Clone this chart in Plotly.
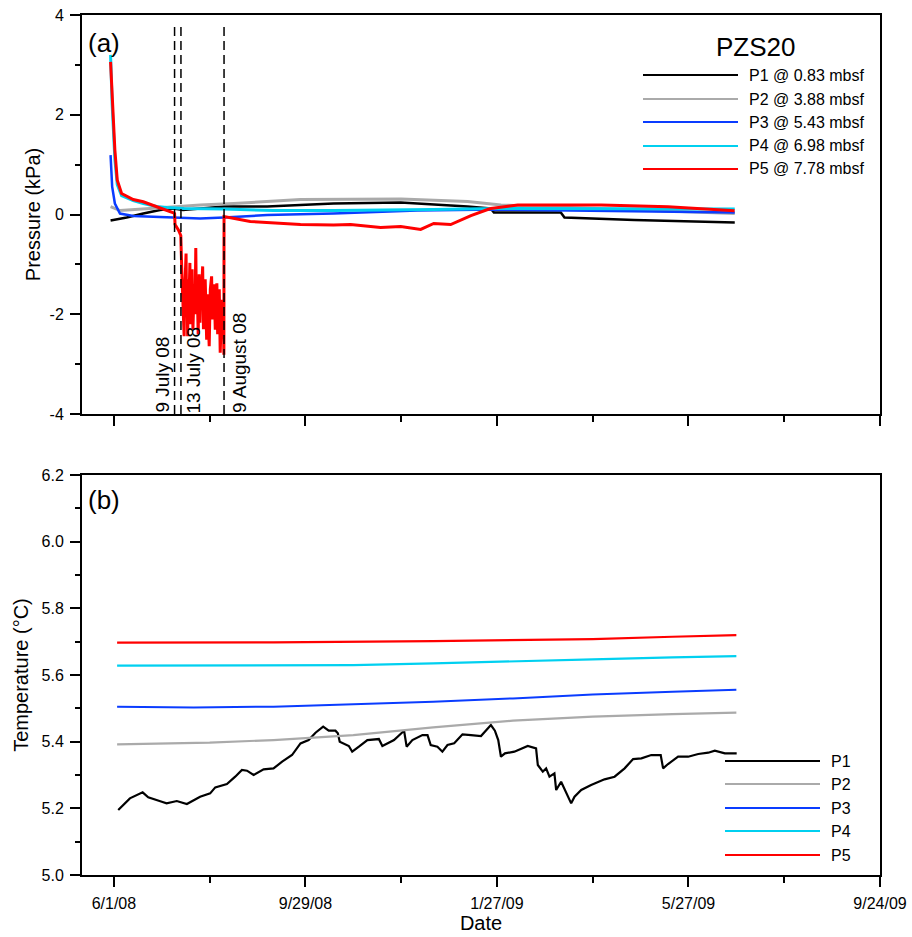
import plotly.graph_objects as go
import pandas as pd

# ---------------- data (day offsets from 6/1/08) ----------------
START = "2008-06-01"
NAMES_A = ["P1 @ 0.83 mbsf", "P2 @ 3.88 mbsf", "P3 @ 5.43 mbsf", "P4 @ 6.98 mbsf", "P5 @ 7.78 mbsf"]
NAMES_B = ["P1", "P2", "P3", "P4", "P5"]
COLORS = ["#000000", "#aaaaaa", "#0a3cff", "#00d0f0", "#ff0000"]

# Panel (a): pressure (kPa)
P1_A_DAYS = [-2.1, 8, 18.4, 28.9, 37.3, 43.3, 69, 96, 137.6, 179.7, 221.6, 236, 238.1, 280, 282.3, 326, 389]
P1_A_KPA = [-0.12, -0.06, 0.02, 0.09, 0.12, 0.09, 0.16, 0.16, 0.22, 0.24, 0.16, 0.12, 0.04, 0.04, -0.06, -0.11, -0.16]

P2_A_DAYS = [-2.1, 3.8, 22.6, 54, 75, 116.9, 180, 221.6, 242.5, 305, 389]
P2_A_KPA = [0.16, 0.08, 0.12, 0.19, 0.22, 0.30, 0.31, 0.26, 0.19, 0.12, 0.02]

P3_A_DAYS = [-2.1, -1.1, 0.6, 3.8, 12.1, 33.1, 54, 69, 96, 137.6, 180, 190, 240, 300, 389]
P3_A_KPA = [1.19, 0.56, 0.22, 0.02, -0.03, -0.06, -0.08, -0.06, -0.01, 0.02, 0.06, 0.08, 0.10, 0.08, 0.04]

P4_A_DAYS = [-2.1, -1.1, 0.6, 2.1, 4.8, 12.1, 18.4, 26.8, 33.1, 44, 69, 100, 137.6, 180, 200, 240, 300, 389]
P4_A_KPA = [3.2, 2.2, 1.1, 0.6, 0.38, 0.28, 0.22, 0.16, 0.14, 0.12, 0.11, 0.08, 0.08, 0.09, 0.10, 0.12, 0.12, 0.11]

P5_A_DAYS = [-2.1, -1.1, 0.6, 2.1, 4.8, 12.1, 18.4, 26.8, 33.1, 37.3, 38.0, 38.3, 40.4, 41.9,
             42.6, 43.2, 44.0, 44.3, 44.6, 45.2, 45.5, 45.8, 46.2, 46.6, 47.0, 47.6, 48.0, 48.5,
             49.0, 49.5, 50.3, 50.8, 51.3, 51.7, 52.2, 52.8, 53.4, 53.9, 54.4, 55.0, 55.6, 56.1,
             56.6, 57.2, 58.1, 58.6, 59.2, 59.7, 60.4, 61.2, 61.7, 62.2, 62.8, 63.5, 64.0, 64.5,
             65.0, 65.5, 66.0, 66.6, 67.0, 67.6, 68.0, 68.5, 68.9, 69.0, 85.4, 106.2, 116.9,
             137.6, 148.3, 167.1, 179.7, 192.2, 200.4, 211, 221.6, 223.7, 234.2, 236.2, 253,
             305.3, 347.2, 388.9]
P5_A_KPA = [3.06, 2.29, 1.29, 0.69, 0.42, 0.30, 0.256, 0.156, 0.09, 0.036, 0.02, -0.20, -0.31, -0.42,
            -1.2, -2.0, -2.44, -1.6, -1.1, -0.78, -1.9, -1.6, -2.44, -1.3, -1.8, -0.97, -2.2, -1.7,
            -1.1, -2.31, -1.4, -2.0, -0.67, -1.9, -1.5, -2.4, -1.2, -2.17, -1.4, -1.5, -1.04, -2.3,
            -1.8, -1.3, -2.51, -1.6, -2.2, -2.64, -1.5, -1.24, -2.1, -1.9, -1.4, -2.31, -1.7, -1.38,
            -2.4, -2.0, -1.5, -2.77, -2.2, -1.71, -2.3, -1.9, -2.81, -0.04, -0.14, -0.18, -0.20,
            -0.21, -0.20, -0.26, -0.24, -0.30, -0.18, -0.20, -0.04, -0.02, 0.10, 0.12, 0.19,
            0.19, 0.156, 0.076]

# Panel (b): temperature (deg C)
P1_B_DAYS = [2.7, 10, 18, 21.5, 30, 33, 39.4, 45.7, 54, 60.3, 63.5, 70.8, 76, 80.2, 83.4, 87.5,
             93.8, 100, 105.4, 111.6, 116.9, 122, 126.3, 131.1, 134.6, 138.8, 140.3, 141.5, 147.2,
             149.3, 153.5, 158.8, 166, 168.2, 175.5, 181.8, 183.4, 187, 193.3, 196.5, 198.5, 202.7,
             205.8, 209, 213.2, 218.4, 223.7, 230, 236.2, 238.7, 240.8, 242.5, 245, 250.9, 259.3,
             264.5, 265.6, 268.7, 270.8, 272.9, 276, 277.1, 280.2, 282.3, 286.5, 288.6, 292.8, 299,
             307.4, 313.7, 320, 325.3, 330.5, 336.7, 342.6, 344.1, 347.2, 353.5, 359.8, 366.1, 372.4,
             376.5, 382.8, 390.2]
P1_B_TEMP = [5.195, 5.23, 5.248, 5.233, 5.22, 5.215, 5.222, 5.213, 5.235, 5.245, 5.263, 5.273,
             5.295, 5.315, 5.313, 5.30, 5.317, 5.32, 5.34, 5.36, 5.395, 5.405, 5.427, 5.445, 5.433,
             5.433, 5.425, 5.40, 5.387, 5.37, 5.385, 5.405, 5.408, 5.387, 5.405, 5.433, 5.385, 5.405,
             5.42, 5.42, 5.39, 5.385, 5.37, 5.39, 5.395, 5.422, 5.42, 5.417, 5.45, 5.433, 5.405, 5.355,
             5.365, 5.37, 5.387, 5.38, 5.33, 5.31, 5.32, 5.295, 5.305, 5.255, 5.28, 5.26, 5.215,
             5.235, 5.255, 5.27, 5.287, 5.295, 5.32, 5.348, 5.35, 5.36, 5.36, 5.32, 5.333, 5.355,
             5.355, 5.363, 5.367, 5.373, 5.365, 5.365]

P2_B_DAYS = [2, 60, 100, 150, 200, 250, 300, 350, 390]
P2_B_TEMP = [5.392, 5.397, 5.405, 5.42, 5.443, 5.463, 5.475, 5.483, 5.487]

P3_B_DAYS = [2, 50, 100, 150, 200, 250, 300, 350, 390]
P3_B_TEMP = [5.505, 5.503, 5.505, 5.512, 5.52, 5.53, 5.542, 5.55, 5.556]

P4_B_DAYS = [2, 100, 150, 200, 250, 300, 350, 390]
P4_B_TEMP = [5.628, 5.628, 5.63, 5.635, 5.64, 5.647, 5.653, 5.657]

P5_B_DAYS = [2, 100, 200, 300, 350, 390]
P5_B_TEMP = [5.697, 5.698, 5.702, 5.708, 5.715, 5.72]

Y_A_TICKVALS = [-4, -2, 0, 2, 4]
Y_A_TICKTEXT = ["-4", "-2", "0", "2", "4"]

VLINE_DATES = ["2008-07-09", "2008-07-13", "2008-08-09"]
VLINE_LABELS = ["9 July 08", "13 July 08", "9 August 08"]
VLINE_SHIFT = [-13, 13, 15]

X_TICK0 = "2008-06-01"
X_RANGE = ["2008-05-12", "2009-09-24"]

# ---------------- figure ----------------
start = pd.Timestamp(START)


def to_dates(days):
    return [start + pd.Timedelta(days=float(d)) for d in days]


FONT = "Liberation Sans, Arial, sans-serif"
fig = go.Figure()

series_a = [(P1_A_DAYS, P1_A_KPA), (P2_A_DAYS, P2_A_KPA), (P3_A_DAYS, P3_A_KPA),
            (P4_A_DAYS, P4_A_KPA), (P5_A_DAYS, P5_A_KPA)]
widths_a = [2.5, 3, 2.5, 3, 3]
for (d, v), name, c, w in zip(series_a, NAMES_A, COLORS, widths_a):
    fig.add_trace(go.Scatter(x=to_dates(d), y=v, mode="lines", name=name,
                             line=dict(color=c, width=w), xaxis="x", yaxis="y", showlegend=False))

series_b = [(P1_B_DAYS, P1_B_TEMP), (P2_B_DAYS, P2_B_TEMP), (P3_B_DAYS, P3_B_TEMP),
            (P4_B_DAYS, P4_B_TEMP), (P5_B_DAYS, P5_B_TEMP)]
widths_b = [2.2, 2.2, 2, 2.2, 2.2]
for (d, v), name, c, w in zip(series_b, NAMES_B, COLORS, widths_b):
    fig.add_trace(go.Scatter(x=to_dates(d), y=v, mode="lines", name=name,
                             line=dict(color=c, width=w), xaxis="x2", yaxis="y2", showlegend=False))

DAY_MS = 86400000
common_x = dict(type="date", range=X_RANGE, tick0=X_TICK0, dtick=120 * DAY_MS,
                ticks="outside", ticklen=10, tickwidth=1.5, tickcolor="black",
                showline=True, linewidth=2, linecolor="black", mirror=True,
                showgrid=False, zeroline=False, ticklabelstandoff=3, automargin=False,
                minor=dict(ticks="outside", ticklen=6, tickwidth=1.5, tickcolor="black",
                           tick0=X_TICK0, dtick=60 * DAY_MS, showgrid=False),
                tickfont=dict(family=FONT, size=16, color="black"))
common_y = dict(ticks="outside", ticklen=10, tickwidth=1.5, tickcolor="black",
                showline=True, linewidth=2, linecolor="black", mirror=True,
                showgrid=False, zeroline=False, ticklabelstandoff=3, automargin=False,
                tickfont=dict(family=FONT, size=16, color="black"))

fig.update_layout(
    width=912, height=937,
    margin=dict(l=82, r=32, t=15, b=62),
    paper_bgcolor="white", plot_bgcolor="white",
    font=dict(family=FONT, color="black"),
    showlegend=False,
    xaxis=dict(domain=[0, 1], anchor="y", showticklabels=False, **common_x),
    xaxis2=dict(domain=[0, 1], anchor="y2", tickformat="%-m/%-d/%y",
                title=dict(text="Date", font=dict(family=FONT, size=20), standoff=3),
                **common_x),
    yaxis=dict(domain=[0.536, 1], anchor="x", range=[-4, 4], tickmode="array",
               tickvals=Y_A_TICKVALS, ticktext=Y_A_TICKTEXT,
               minor=dict(ticks="outside", ticklen=5, tickwidth=1.5, tickcolor="black",
                          tick0=0, dtick=1, showgrid=False),
               title=dict(text="Pressure (kPa)", font=dict(family=FONT, size=20), standoff=4),
               **common_y),
    yaxis2=dict(domain=[0, 0.465], anchor="x2", range=[5.0, 6.2], tick0=5.0, dtick=0.2, tickformat=".1f",
                minor=dict(ticks="outside", ticklen=5, tickwidth=1.5, tickcolor="black", dtick=0.1, showgrid=False),
                title=dict(text="Temperature (°C)", font=dict(family=FONT, size=20), standoff=8),
                **common_y),
)

shapes = []
annotations = []
for dt, lab, sh in zip(VLINE_DATES, VLINE_LABELS, VLINE_SHIFT):
    shapes.append(dict(type="line", xref="x", yref="y", x0=dt, x1=dt, y0=-4, y1=3.84,
                       line=dict(color="black", width=1.5, dash="9px,5px")))
    annotations.append(dict(x=dt, y=-4, xref="x", yref="y", text=lab, textangle=-90,
                            showarrow=False, xanchor="center", yanchor="bottom", xshift=sh, yshift=-1,
                            font=dict(family=FONT, size=19, color="black")))


def px_x(px):
    return (px - 82) / 798.0


def px_y(py):
    return (875 - py) / 860.0


# panel labels
annotations.append(dict(x=px_x(86), y=px_y(43), xref="paper", yref="paper", text="(a)", showarrow=False,
                        xanchor="left", yanchor="middle", font=dict(family=FONT, size=26)))
annotations.append(dict(x=px_x(86), y=px_y(500), xref="paper", yref="paper", text="(b)", showarrow=False,
                        xanchor="left", yanchor="middle", font=dict(family=FONT, size=26)))
annotations.append(dict(x=px_x(756), y=px_y(47), xref="paper", yref="paper", text="PZS20", showarrow=False,
                        xanchor="center", yanchor="middle", font=dict(family=FONT, size=26)))

# legends (drawn manually to reproduce long legend lines)
leg_a_y = [75, 99, 122, 146, 169]
for name, c, yy in zip(NAMES_A, COLORS, leg_a_y):
    shapes.append(dict(type="line", xref="paper", yref="paper", x0=px_x(643), x1=px_x(738),
                       y0=px_y(yy), y1=px_y(yy), line=dict(color=c, width=2)))
    annotations.append(dict(x=px_x(747), y=px_y(yy), xref="paper", yref="paper", text=name, showarrow=False,
                            xanchor="left", yanchor="middle", font=dict(family=FONT, size=16)))
leg_b_y = [761, 784, 808, 831, 855]
for name, c, yy in zip(NAMES_B, COLORS, leg_b_y):
    shapes.append(dict(type="line", xref="paper", yref="paper", x0=px_x(725), x1=px_x(820),
                       y0=px_y(yy), y1=px_y(yy), line=dict(color=c, width=2)))
    annotations.append(dict(x=px_x(829), y=px_y(yy), xref="paper", yref="paper", text=name, showarrow=False,
                            xanchor="left", yanchor="middle", font=dict(family=FONT, size=16)))

fig.update_layout(shapes=shapes, annotations=annotations)
fig.write_html("out.html")
